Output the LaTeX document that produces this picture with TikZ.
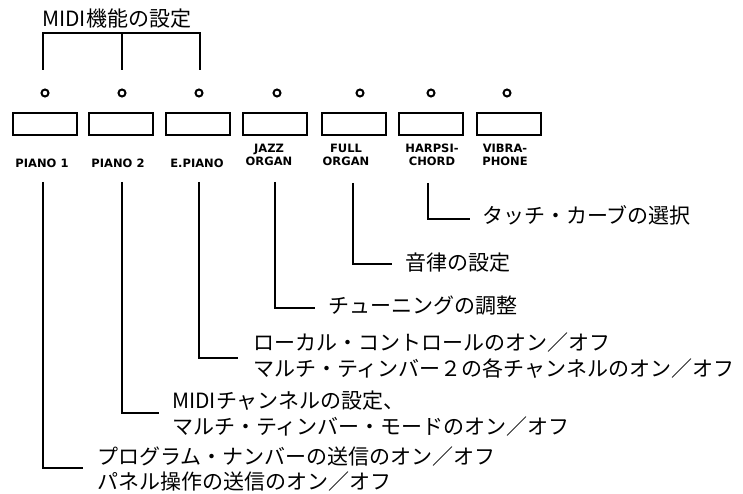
\documentclass[tikz,border=0pt]{standalone}
\usepackage{fontspec}
\newfontfamily\jpfont{Noto Sans CJK JP}
\newfontfamily\lblfont{DejaVu Sans}
\begin{document}
\begin{tikzpicture}[x=1pt,y=-1pt,
  btn/.style={draw,line width=2pt,minimum width=64pt,minimum height=22pt,inner sep=0pt},
  lamp/.style={circle,draw,line width=2pt,minimum size=7pt,inner sep=0pt},
  lbl/.style={font=\lblfont\bfseries\fontsize{11.5}{13.5}\selectfont,align=center,inner sep=0pt},
  jp/.style={font=\jpfont\fontsize{21}{25.5}\selectfont,anchor=west,align=left,inner sep=0pt},
  lead/.style={line width=2.2pt}]
\useasboundingbox (0,0) rectangle (743,494);
% title and bracket
\node[jp] (title) at (42,19) {MIDI機能の設定};
\coordinate (k1) at (43,70);
\coordinate (k2) at (122,70);
\coordinate (k3) at (200,70);
\coordinate (kt) at (122,33);
\draw[lead,line width=1.8pt] (k1) |- (kt) -- (k2);
\draw[lead,line width=1.8pt] (kt) -| (k3);
% lamps
\foreach \i/\x in {1/45,2/122,3/199,4/277,5/360,6/431,7/507}
  \node[lamp] (l\i) at (\x,93) {};
% buttons
\foreach \i/\x in {1/44.5,2/121,3/198,4/274.5,5/354,6/430.5,7/508.5}
  \node[btn] (b\i) at (\x,124.5) {};
% labels
\node[lbl] (t1) at (42,163) {PIANO 1};
\node[lbl] (t2) at (118,163) {PIANO 2};
\node[lbl] (t3) at (197,163) {E.PIANO};
\node[lbl] (t4) at (269,155) {JAZZ\\ORGAN};
\node[lbl] (t5) at (346,155) {FULL\\ORGAN};
\node[lbl] (t6) at (432,155) {HARPSI-\\CHORD};
\node[lbl] (t7) at (505,155) {VIBRA-\\PHONE};
% descriptions
\node[jp] (d6) at (482,215) {タッチ・カーブの選択};
\node[jp] (d5) at (405,263) {音律の設定};
\node[jp] (d4) at (328,306) {チューニングの調整};
\node[jp] (d3) at (253,355.5) {ローカル・コントロールのオン／オフ\\マルチ・ティンバー２の各チャンネルのオン／オフ};
\node[jp] (d2) at (172,413.5) {MIDIチャンネルの設定、\\マルチ・ティンバー・モードのオン／オフ};
\node[jp] (d1) at (97,469) {プログラム・ナンバーの送信のオン／オフ\\パネル操作の送信のオン／オフ};
% leaders
\coordinate (s1) at (43,182);  \coordinate (e1) at (83,468);
\coordinate (s2) at (122,182); \coordinate (e2) at (159,413);
\coordinate (s3) at (199,182); \coordinate (e3) at (238,358);
\coordinate (s4) at (275,182); \coordinate (e4) at (315,308);
\coordinate (s5) at (353,183); \coordinate (e5) at (392,264);
\coordinate (s6) at (428,183); \coordinate (e6) at (470,219);
\foreach \i in {1,...,6}
  \draw[lead] (s\i) |- (e\i);
\end{tikzpicture}
\end{document}
